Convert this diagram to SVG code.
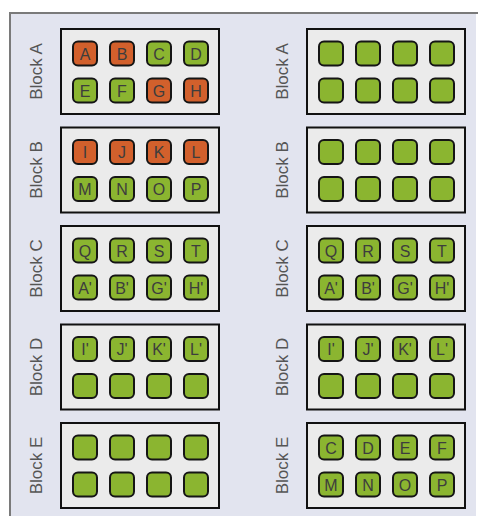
<svg xmlns="http://www.w3.org/2000/svg" width="478" height="516" viewBox="0 0 478 516">
<style>
.panel{fill:#e2e4ef;stroke:none}
.pedge{stroke:#7a7a7a;stroke-width:2;fill:none}
.box{fill:#ebebeb;stroke:#111;stroke-width:2}
.g{fill:#8bb530;stroke:#151515;stroke-width:2}
.o{fill:#d2602c;stroke:#151515;stroke-width:2}
.lbl{font-family:"Liberation Sans",Arial,sans-serif;font-size:17px;fill:#555;text-anchor:middle}
.t{font-family:"Liberation Sans",Arial,sans-serif;font-size:16px;fill:#3d3d3d;text-anchor:middle}
</style>
<defs>
<rect id="c" x="-12" y="-12" width="24" height="24" rx="5"/>
</defs>
<rect class="panel" x="10" y="13" width="466" height="510"/>
<path class="pedge" d="M10 516 V13 H478"/>
<g id="connectors"></g>

<!-- Left column -->
<g id="L-A">
<rect class="box" x="61" y="29" width="158" height="85"/>
<text class="lbl" transform="translate(42,71.5) rotate(-90)">Block A</text>
<g transform="translate(85,53.5)"><use href="#c" class="o"/><text class="t" y="6">A</text></g>
<g transform="translate(122,53.5)"><use href="#c" class="o"/><text class="t" y="6">B</text></g>
<g transform="translate(159,53.5)"><use href="#c" class="g"/><text class="t" y="6">C</text></g>
<g transform="translate(196,53.5)"><use href="#c" class="g"/><text class="t" y="6">D</text></g>
<g transform="translate(85,90.5)"><use href="#c" class="g"/><text class="t" y="6">E</text></g>
<g transform="translate(122,90.5)"><use href="#c" class="g"/><text class="t" y="6">F</text></g>
<g transform="translate(159,90.5)"><use href="#c" class="o"/><text class="t" y="6">G</text></g>
<g transform="translate(196,90.5)"><use href="#c" class="o"/><text class="t" y="6">H</text></g>
</g>
<g id="L-B">
<rect class="box" x="61" y="127.5" width="158" height="85"/>
<text class="lbl" transform="translate(42,170) rotate(-90)">Block B</text>
<g transform="translate(85,152)"><use href="#c" class="o"/><text class="t" y="6">I</text></g>
<g transform="translate(122,152)"><use href="#c" class="o"/><text class="t" y="6">J</text></g>
<g transform="translate(159,152)"><use href="#c" class="o"/><text class="t" y="6">K</text></g>
<g transform="translate(196,152)"><use href="#c" class="o"/><text class="t" y="6">L</text></g>
<g transform="translate(85,189)"><use href="#c" class="g"/><text class="t" y="6">M</text></g>
<g transform="translate(122,189)"><use href="#c" class="g"/><text class="t" y="6">N</text></g>
<g transform="translate(159,189)"><use href="#c" class="g"/><text class="t" y="6">O</text></g>
<g transform="translate(196,189)"><use href="#c" class="g"/><text class="t" y="6">P</text></g>
</g>
<g id="L-C">
<rect class="box" x="61" y="226" width="158" height="85"/>
<text class="lbl" transform="translate(42,268.5) rotate(-90)">Block C</text>
<g transform="translate(85,250.5)"><use href="#c" class="g"/><text class="t" y="6">Q</text></g>
<g transform="translate(122,250.5)"><use href="#c" class="g"/><text class="t" y="6">R</text></g>
<g transform="translate(159,250.5)"><use href="#c" class="g"/><text class="t" y="6">S</text></g>
<g transform="translate(196,250.5)"><use href="#c" class="g"/><text class="t" y="6">T</text></g>
<g transform="translate(85,287.5)"><use href="#c" class="g"/><text class="t" y="6">A'</text></g>
<g transform="translate(122,287.5)"><use href="#c" class="g"/><text class="t" y="6">B'</text></g>
<g transform="translate(159,287.5)"><use href="#c" class="g"/><text class="t" y="6">G'</text></g>
<g transform="translate(196,287.5)"><use href="#c" class="g"/><text class="t" y="6">H'</text></g>
</g>
<g id="L-D">
<rect class="box" x="61" y="324.5" width="158" height="85"/>
<text class="lbl" transform="translate(42,367) rotate(-90)">Block D</text>
<g transform="translate(85,349)"><use href="#c" class="g"/><text class="t" y="6">I'</text></g>
<g transform="translate(122,349)"><use href="#c" class="g"/><text class="t" y="6">J'</text></g>
<g transform="translate(159,349)"><use href="#c" class="g"/><text class="t" y="6">K'</text></g>
<g transform="translate(196,349)"><use href="#c" class="g"/><text class="t" y="6">L'</text></g>
<g transform="translate(85,386)"><use href="#c" class="g"/></g>
<g transform="translate(122,386)"><use href="#c" class="g"/></g>
<g transform="translate(159,386)"><use href="#c" class="g"/></g>
<g transform="translate(196,386)"><use href="#c" class="g"/></g>
</g>
<g id="L-E">
<rect class="box" x="61" y="423" width="158" height="85"/>
<text class="lbl" transform="translate(42,465.5) rotate(-90)">Block E</text>
<g transform="translate(85,447.5)"><use href="#c" class="g"/></g>
<g transform="translate(122,447.5)"><use href="#c" class="g"/></g>
<g transform="translate(159,447.5)"><use href="#c" class="g"/></g>
<g transform="translate(196,447.5)"><use href="#c" class="g"/></g>
<g transform="translate(85,484.5)"><use href="#c" class="g"/></g>
<g transform="translate(122,484.5)"><use href="#c" class="g"/></g>
<g transform="translate(159,484.5)"><use href="#c" class="g"/></g>
<g transform="translate(196,484.5)"><use href="#c" class="g"/></g>
</g>

<!-- Right column -->
<g id="R-A">
<rect class="box" x="307" y="29" width="158" height="85"/>
<text class="lbl" transform="translate(288,71.5) rotate(-90)">Block A</text>
<g transform="translate(331,53.5)"><use href="#c" class="g"/></g>
<g transform="translate(368,53.5)"><use href="#c" class="g"/></g>
<g transform="translate(405,53.5)"><use href="#c" class="g"/></g>
<g transform="translate(442,53.5)"><use href="#c" class="g"/></g>
<g transform="translate(331,90.5)"><use href="#c" class="g"/></g>
<g transform="translate(368,90.5)"><use href="#c" class="g"/></g>
<g transform="translate(405,90.5)"><use href="#c" class="g"/></g>
<g transform="translate(442,90.5)"><use href="#c" class="g"/></g>
</g>
<g id="R-B">
<rect class="box" x="307" y="127.5" width="158" height="85"/>
<text class="lbl" transform="translate(288,170) rotate(-90)">Block B</text>
<g transform="translate(331,152)"><use href="#c" class="g"/></g>
<g transform="translate(368,152)"><use href="#c" class="g"/></g>
<g transform="translate(405,152)"><use href="#c" class="g"/></g>
<g transform="translate(442,152)"><use href="#c" class="g"/></g>
<g transform="translate(331,189)"><use href="#c" class="g"/></g>
<g transform="translate(368,189)"><use href="#c" class="g"/></g>
<g transform="translate(405,189)"><use href="#c" class="g"/></g>
<g transform="translate(442,189)"><use href="#c" class="g"/></g>
</g>
<g id="R-C">
<rect class="box" x="307" y="226" width="158" height="85"/>
<text class="lbl" transform="translate(288,268.5) rotate(-90)">Block C</text>
<g transform="translate(331,250.5)"><use href="#c" class="g"/><text class="t" y="6">Q</text></g>
<g transform="translate(368,250.5)"><use href="#c" class="g"/><text class="t" y="6">R</text></g>
<g transform="translate(405,250.5)"><use href="#c" class="g"/><text class="t" y="6">S</text></g>
<g transform="translate(442,250.5)"><use href="#c" class="g"/><text class="t" y="6">T</text></g>
<g transform="translate(331,287.5)"><use href="#c" class="g"/><text class="t" y="6">A'</text></g>
<g transform="translate(368,287.5)"><use href="#c" class="g"/><text class="t" y="6">B'</text></g>
<g transform="translate(405,287.5)"><use href="#c" class="g"/><text class="t" y="6">G'</text></g>
<g transform="translate(442,287.5)"><use href="#c" class="g"/><text class="t" y="6">H'</text></g>
</g>
<g id="R-D">
<rect class="box" x="307" y="324.5" width="158" height="85"/>
<text class="lbl" transform="translate(288,367) rotate(-90)">Block D</text>
<g transform="translate(331,349)"><use href="#c" class="g"/><text class="t" y="6">I'</text></g>
<g transform="translate(368,349)"><use href="#c" class="g"/><text class="t" y="6">J'</text></g>
<g transform="translate(405,349)"><use href="#c" class="g"/><text class="t" y="6">K'</text></g>
<g transform="translate(442,349)"><use href="#c" class="g"/><text class="t" y="6">L'</text></g>
<g transform="translate(331,386)"><use href="#c" class="g"/></g>
<g transform="translate(368,386)"><use href="#c" class="g"/></g>
<g transform="translate(405,386)"><use href="#c" class="g"/></g>
<g transform="translate(442,386)"><use href="#c" class="g"/></g>
</g>
<g id="R-E">
<rect class="box" x="307" y="423" width="158" height="85"/>
<text class="lbl" transform="translate(288,465.5) rotate(-90)">Block E</text>
<g transform="translate(331,447.5)"><use href="#c" class="g"/><text class="t" y="6">C</text></g>
<g transform="translate(368,447.5)"><use href="#c" class="g"/><text class="t" y="6">D</text></g>
<g transform="translate(405,447.5)"><use href="#c" class="g"/><text class="t" y="6">E</text></g>
<g transform="translate(442,447.5)"><use href="#c" class="g"/><text class="t" y="6">F</text></g>
<g transform="translate(331,484.5)"><use href="#c" class="g"/><text class="t" y="6">M</text></g>
<g transform="translate(368,484.5)"><use href="#c" class="g"/><text class="t" y="6">N</text></g>
<g transform="translate(405,484.5)"><use href="#c" class="g"/><text class="t" y="6">O</text></g>
<g transform="translate(442,484.5)"><use href="#c" class="g"/><text class="t" y="6">P</text></g>
</g>
</svg>
